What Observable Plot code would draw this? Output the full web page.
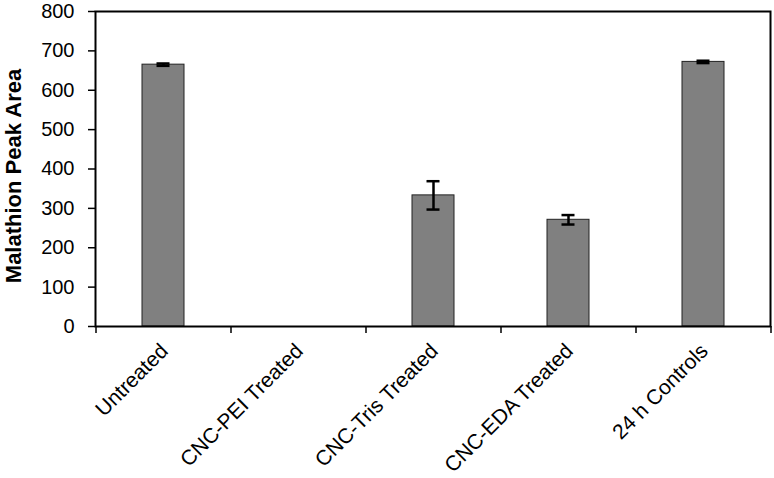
<!DOCTYPE html>
<html><head>
<meta charset="utf-8">
<script src="https://cdn.jsdelivr.net/npm/d3@7"></script>
<script src="https://cdn.jsdelivr.net/npm/@observablehq/plot@0.6"></script>
<style>body{margin:0;background:#fff}</style>
</head><body><div id="chart"></div>
<script>
const categories = ["Untreated", "CNC-PEI Treated", "CNC-Tris Treated", "CNC-EDA Treated", "24 h Controls"];
const values = [665, 0, 333, 271, 672];
const errors = [3, 0, 36, 12, 3];
const yTicks = [0, 100, 200, 300, 400, 500, 600, 700, 800];
const yLabel = "Malathion Peak Area";

const data = categories.map((c, i) => ({category: c, value: values[i], error: errors[i]}));
const errData = data.filter(d => d.error > 0);
const FONT = "Liberation Sans, Arial, sans-serif";

const chart = Plot.plot({
  width: 774,
  height: 478,
  marginLeft: 95,
  marginRight: 4,
  marginTop: 11,
  marginBottom: 152,
  style: {fontFamily: FONT, background: "#fff", color: "#000"},
  x: {type: "band", domain: categories, paddingInner: 0.69, paddingOuter: 0.345},
  y: {domain: [0, 800]},
  marks: [
    Plot.barY(data, {x: "category", y: "value", fill: "#808080", stroke: "#222", strokeWidth: 1}),
    Plot.ruleX(errData, {x: "category", y1: d => d.value - d.error, y2: d => d.value + d.error, stroke: "#000", strokeWidth: 2.5}),
    Plot.tickY(errData, {x: "category", y: d => d.value + d.error, stroke: "#000", strokeWidth: 2.5, insetLeft: 14.5, insetRight: 14.5}),
    Plot.tickY(errData, {x: "category", y: d => d.value - d.error, stroke: "#000", strokeWidth: 2.5, insetLeft: 14.5, insetRight: 14.5}),
    Plot.frame({stroke: "#000", strokeWidth: 2}),
    Plot.axisY({ticks: yTicks, tickSize: 7, tickPadding: 14, fontSize: 20, label: null, strokeWidth: 1.5}),
    Plot.ruleX(categories, {x: d => d, y1: 0, y2: 0, insetBottom: -7, dx: -67.5, stroke: "#000", strokeWidth: 1.5}),
    Plot.ruleX([categories[categories.length - 1]], {x: d => d, y1: 0, y2: 0, insetBottom: -7, dx: 67.5, stroke: "#000", strokeWidth: 1.5}),
    Plot.axisX({tickSize: 0, tickRotate: -45, tickPadding: 21, dx: 1, fontSize: 21, label: null}),
    Plot.text([yLabel], {frameAnchor: "left", textAnchor: "middle", rotate: -90, dx: -82, dy: 7, fontWeight: "bold", fontSize: 22, fill: "#000"})
  ]
});
document.getElementById("chart").appendChild(chart);
</script>
</body></html>
